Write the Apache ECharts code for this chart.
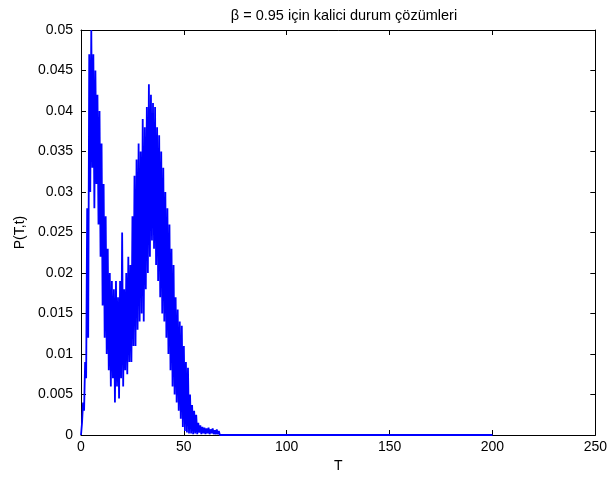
<!DOCTYPE html>
<html>
<head>
<meta charset="utf-8">
<script src="https://cdn.jsdelivr.net/npm/echarts@6/dist/echarts.min.js"></script>
<style>html,body{margin:0;padding:0;background:#fff;}#c{width:610px;height:480px;}</style>
</head>
<body>
<div id="c"></div>
<script>
const titleText = "\u03B2 = 0.95 i\u00E7in kalici durum \u00E7\u00F6z\u00FCmleri";
const xLabel = "T";
const yLabel = "P(T,t)";
const xTicks = [0, 50, 100, 150, 200, 250];
const yTicks = [0, 0.005, 0.01, 0.015, 0.02, 0.025, 0.03, 0.035, 0.04, 0.045, 0.05];

const T = [0,0.5,1,1.5,2,2.5,3,3.5,4,4.5,5,5.5,6,6.5,7,7.5,8,8.5,9,9.5,
  10,10.5,11,11.5,12,12.5,13,13.5,14,14.5,15,15.5,16,16.5,17,17.5,18,18.5,19,19.5,
  20,20.5,21,21.5,22,22.5,23,23.5,24,24.5,25,25.5,26,26.5,27,27.5,28,28.5,29,29.5,
  30,30.5,31,31.5,32,32.5,33,33.5,34,34.5,35,35.5,36,36.5,37,37.5,38,38.5,39,39.5,
  40,40.5,41,41.5,42,42.5,43,43.5,44,44.5,45,45.5,46,46.5,47,47.5,48,48.5,49,49.5,
  50,50.5,51,51.5,52,52.5,53,53.5,54,54.5,55,55.5,56,56.5,57,57.5,58,58.5,59,59.5,
  60,60.5,61,61.5,62,62.5,63,63.5,64,64.5,65,65.5,66,66.5,67,67.5,200];

const P = [0,0.0015,0.004,0.003,0.009,0.007,0.028,0.012,0.047,0.03,0.05,0.033,0.047,0.028,0.045,0.031,0.042,0.026,0.04,0.022,
  0.036,0.016,0.031,0.012,0.027,0.01,0.023,0.008,0.02,0.006,0.019,0.007,0.018,0.004,0.019,0.006,0.017,0.0045,0.019,0.007,
  0.025,0.006,0.018,0.008,0.02,0.0075,0.022,0.009,0.021,0.009,0.027,0.011,0.032,0.011,0.034,0.013,0.036,0.014,0.035,0.015,
  0.039,0.014,0.038,0.018,0.0405,0.02,0.0433,0.022,0.042,0.024,0.041,0.023,0.0405,0.021,0.038,0.019,0.037,0.017,0.035,0.015,
  0.033,0.014,0.03,0.012,0.028,0.01,0.026,0.008,0.023,0.006,0.021,0.005,0.017,0.004,0.0155,0.003,0.014,0.002,0.0135,0.001,
  0.011,0.0005,0.009,0.0003,0.0083,0.0002,0.005,0.0002,0.0037,0.0001,0.003,0.0002,0.0025,0.0001,0.0015,0.0003,0.0012,0.0001,0.001,0.0002,
  0.0009,0.0001,0.0008,0.0002,0.0009,0.0001,0.0007,0.0002,0.0008,0.0001,0.0006,0.0001,0.0007,0.0001,0.0005,0,0];

const font = "Liberation Sans, Arial, Helvetica, sans-serif";
const chart = echarts.init(document.getElementById('c'), null, {renderer: 'canvas'});
const axisCommon = {
  axisLine: {show: true, onZero: false, lineStyle: {color: '#000', width: 1}},
  axisTick: {show: true, inside: true, length: 5, lineStyle: {color: '#000'}},
  splitLine: {show: false}
};
chart.setOption({
  animation: false,
  backgroundColor: '#fff',
  title: {
    text: titleText, left: 339, top: 3, textAlign: 'center',
    textStyle: {fontFamily: font, fontSize: 14.5, fontWeight: 'normal', color: '#000'}
  },
  grid: {left: 81, right: 13, top: 30, bottom: 45, containLabel: false},
  xAxis: [
    Object.assign({
      type: 'value', min: xTicks[0], max: xTicks[xTicks.length - 1], interval: 50,
      name: xLabel, nameLocation: 'middle', nameGap: 24,
      nameTextStyle: {fontFamily: font, fontSize: 14, color: '#000'},
      axisLabel: {fontFamily: font, fontSize: 14, color: '#000', margin: 5}
    }, axisCommon),
    Object.assign({
      type: 'value', position: 'top', min: xTicks[0], max: xTicks[xTicks.length - 1], interval: 50,
      axisLabel: {show: false}
    }, axisCommon)
  ],
  yAxis: [
    Object.assign({
      type: 'value', min: yTicks[0], max: yTicks[yTicks.length - 1], interval: 0.005,
      name: yLabel, nameLocation: 'middle', nameGap: 53, nameRotate: 90,
      nameTextStyle: {fontFamily: font, fontSize: 14, color: '#000'},
      axisLabel: {fontFamily: font, fontSize: 14, color: '#000', margin: 8,
        formatter: v => String(+v.toFixed(3))}
    }, axisCommon),
    Object.assign({
      type: 'value', position: 'right', min: yTicks[0], max: yTicks[yTicks.length - 1], interval: 0.005,
      axisLabel: {show: false}
    }, axisCommon)
  ],
  series: [{
    type: 'line',
    xAxisIndex: 0, yAxisIndex: 0,
    data: T.map((t, i) => [t, P[i]]),
    showSymbol: false,
    lineStyle: {color: '#0000ff', width: 1.8},
    itemStyle: {color: '#0000ff'}
  }]
});
</script>
</body>
</html>
